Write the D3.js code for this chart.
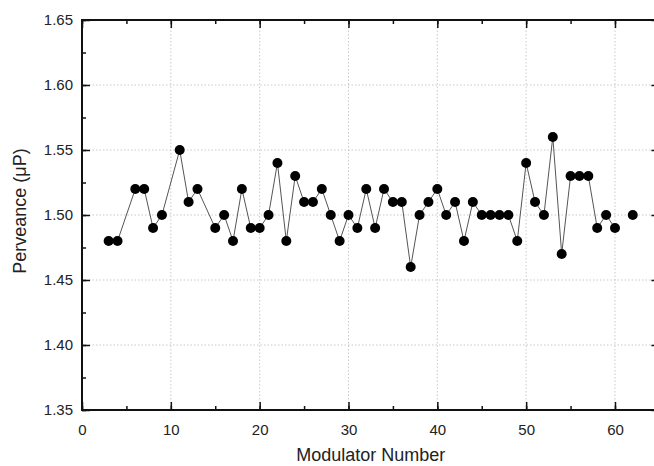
<!DOCTYPE html>
<html>
<head>
<meta charset="utf-8">
<script src="https://cdn.jsdelivr.net/npm/d3@7"></script>
<style>
  body { margin: 0; background: #fff; }
  svg text { font-family: "Liberation Sans", Arial, sans-serif; fill: #222; }
</style>
</head>
<body>
<div id="chart"></div>
<script>
// modulator numbers and measured perveance (null = no measurement, breaks line)
const modulators = [3, 4, 6, 7, 8, 9, 11, 12, 13, 15, 16, 17, 18, 19, 20, 21, 22, 23, 24, 25,
    26, 27, 28, 29, 30, 31, 32, 33, 34, 35, 36, 37, 38, 39, 40, 41, 42, 43, 44, 45,
    46, 47, 48, 49, 50, 51, 52, 53, 54, 55, 56, 57, 58, 59, 60, 61, 62];
const perveance = [1.48, 1.48, 1.52, 1.52, 1.49, 1.50, 1.55, 1.51, 1.52, 1.49, 1.50, 1.48, 1.52, 1.49, 1.49, 1.50, 1.54, 1.48, 1.53, 1.51,
    1.51, 1.52, 1.50, 1.48, 1.50, 1.49, 1.52, 1.49, 1.52, 1.51, 1.51, 1.46, 1.50, 1.51, 1.52, 1.50, 1.51, 1.48, 1.51, 1.50,
    1.50, 1.50, 1.50, 1.48, 1.54, 1.51, 1.50, 1.56, 1.47, 1.53, 1.53, 1.53, 1.49, 1.50, 1.49, null, 1.50];

const xTicks = [0, 10, 20, 30, 40, 50, 60];
const yTicks = [1.35, 1.40, 1.45, 1.50, 1.55, 1.60, 1.65];

const width = 654, height = 466;
const margin = {top: 20, right: -5.4, bottom: 56, left: 82};

const data = modulators.map((m, i) => ({x: m, y: perveance[i]}));

const svg = d3.select("#chart").append("svg")
    .attr("width", width)
    .attr("height", height);

const x = d3.scaleLinear().domain([0, 65]).range([margin.left, width - margin.right]);
const y = d3.scaleLinear().domain([1.35, 1.65]).range([height - margin.bottom, margin.top]);

// dotted grid
svg.append("g")
    .selectAll("line")
    .data(xTicks.filter(d => d > 0))
    .enter().append("line")
    .attr("x1", d => x(d)).attr("x2", d => x(d))
    .attr("y1", y(1.35)).attr("y2", y(1.65))
    .attr("stroke", "#bbb").attr("stroke-width", 0.8)
    .attr("stroke-dasharray", "1.5,2");

svg.append("g")
    .selectAll("line")
    .data(yTicks.filter(d => d > 1.351 && d < 1.649))
    .enter().append("line")
    .attr("x1", x(0)).attr("x2", x(65))
    .attr("y1", d => y(d)).attr("y2", d => y(d))
    .attr("stroke", "#bbb").attr("stroke-width", 0.8)
    .attr("stroke-dasharray", "1.5,2");

// axes, ticks inward
const xMinor = d3.range(0, 66, 5);
const yMinor = d3.range(0, 13).map(i => 1.35 + i * 0.025);

function addAxis(axis, transform) {
    const g = svg.append("g").attr("transform", transform).call(axis);
    g.select(".domain").remove();
    g.selectAll(".tick line").attr("stroke", "#111").attr("stroke-width", 1.5);
    return g;
}

// bottom
addAxis(d3.axisBottom(x).tickValues(xMinor).tickSize(-4).tickFormat(""), `translate(0,${y(1.35)})`);
const xAx = addAxis(d3.axisBottom(x).tickValues(xTicks).tickSize(-8).tickPadding(14).tickFormat(d3.format("d")), `translate(0,${y(1.35)})`);
xAx.selectAll("text").style("font-size", "15px");
// top
addAxis(d3.axisTop(x).tickValues(xMinor).tickSize(-4).tickFormat(""), `translate(0,${y(1.65)})`);
addAxis(d3.axisTop(x).tickValues(xTicks).tickSize(-8).tickFormat(""), `translate(0,${y(1.65)})`);
// left
addAxis(d3.axisLeft(y).tickValues(yMinor).tickSize(-4).tickFormat(""), `translate(${x(0)},0)`);
const yAx = addAxis(d3.axisLeft(y).tickValues(yTicks).tickSize(-8).tickPadding(9).tickFormat(d3.format(".2f")), `translate(${x(0)},0)`);
yAx.selectAll("text").style("font-size", "15px");
// right
addAxis(d3.axisRight(y).tickValues(yMinor).tickSize(-4).tickFormat(""), `translate(${x(65)},0)`);
addAxis(d3.axisRight(y).tickValues(yTicks).tickSize(-8).tickFormat(""), `translate(${x(65)},0)`);

// frame
svg.append("rect")
    .attr("x", x(0)).attr("y", y(1.65))
    .attr("width", x(65) - x(0)).attr("height", y(1.35) - y(1.65))
    .attr("fill", "none").attr("stroke", "#111").attr("stroke-width", 2);

// line + markers
const line = d3.line()
    .defined(d => d.y !== null)
    .x(d => x(d.x))
    .y(d => y(d.y));

svg.append("path")
    .datum(data)
    .attr("d", line)
    .attr("fill", "none")
    .attr("stroke", "#555")
    .attr("stroke-width", 1);

svg.append("g")
    .selectAll("circle")
    .data(data.filter(d => d.y !== null))
    .enter().append("circle")
    .attr("cx", d => x(d.x))
    .attr("cy", d => y(d.y))
    .attr("r", 5)
    .attr("fill", "#000");

// axis titles
svg.append("text")
    .attr("x", (x(0) + x(65)) / 2)
    .attr("y", 461)
    .attr("text-anchor", "middle")
    .style("font-size", "18px")
    .text("Modulator Number");

svg.append("text")
    .attr("transform", `translate(26,${y(1.5) - 4}) rotate(-90)`)
    .attr("text-anchor", "middle")
    .style("font-size", "18px")
    .text("Perveance (μP)");
</script>
</body>
</html>
